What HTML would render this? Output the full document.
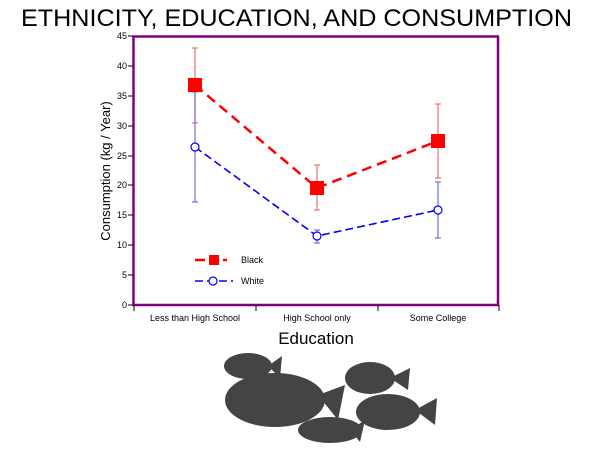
<!DOCTYPE html>
<html><head><style>
html,body{margin:0;padding:0;background:#fff;}
</style></head><body>
<svg width="600" height="450" xmlns="http://www.w3.org/2000/svg" font-family="Liberation Sans, sans-serif">
<text x="21" y="26" font-size="24" textLength="551" lengthAdjust="spacingAndGlyphs" fill="#000">ETHNICITY, EDUCATION, AND CONSUMPTION</text>
<rect x="133.5" y="36.5" width="364.5" height="268.5" fill="none" stroke="#800080" stroke-width="2.5"/>
<g stroke="#000" stroke-width="1">
<line x1="128" y1="36" x2="133" y2="36"/><line x1="128" y1="66" x2="133" y2="66"/><line x1="128" y1="96" x2="133" y2="96"/><line x1="128" y1="126" x2="133" y2="126"/><line x1="128" y1="156" x2="133" y2="156"/><line x1="128" y1="185" x2="133" y2="185"/><line x1="128" y1="215" x2="133" y2="215"/><line x1="128" y1="245" x2="133" y2="245"/><line x1="128" y1="275" x2="133" y2="275"/><line x1="128" y1="305" x2="133" y2="305"/>
<line x1="134" y1="305" x2="134" y2="311"/><line x1="256" y1="305" x2="256" y2="311"/><line x1="378" y1="305" x2="378" y2="311"/><line x1="499" y1="305" x2="499" y2="311"/>
</g>
<g font-size="9" fill="#000" text-anchor="end">
<text x="127" y="39">45</text><text x="127" y="69">40</text><text x="127" y="99">35</text><text x="127" y="129">30</text><text x="127" y="159">25</text><text x="127" y="188">20</text><text x="127" y="218">15</text><text x="127" y="248">10</text><text x="127" y="278">5</text><text x="127" y="308">0</text>
</g>
<g font-size="9" fill="#000" text-anchor="middle">
<text x="195" y="321">Less than High School</text><text x="317" y="321">High School only</text><text x="438" y="321">Some College</text>
</g>
<text x="316" y="344" font-size="17" text-anchor="middle">Education</text>
<text transform="translate(110,171) rotate(-90)" font-size="13" text-anchor="middle">Consumption  (kg / Year)</text>
<g stroke="#f07070" stroke-width="1.2">
<line x1="195" y1="48" x2="195" y2="123"/><line x1="192" y1="48" x2="198" y2="48"/><line x1="192" y1="123" x2="198" y2="123"/>
<line x1="317" y1="165" x2="317" y2="210"/><line x1="314" y1="165" x2="320" y2="165"/><line x1="314" y1="210" x2="320" y2="210"/>
<line x1="438" y1="104" x2="438" y2="178"/><line x1="435" y1="104" x2="441" y2="104"/><line x1="435" y1="178" x2="441" y2="178"/>
</g>
<g stroke="#7070e0" stroke-width="1.2">
<line x1="195" y1="92" x2="195" y2="202"/><line x1="192" y1="92" x2="198" y2="92"/><line x1="192" y1="202" x2="198" y2="202"/>
<line x1="317" y1="230" x2="317" y2="243"/><line x1="314" y1="230" x2="320" y2="230"/><line x1="314" y1="243" x2="320" y2="243"/>
<line x1="438" y1="182" x2="438" y2="238"/><line x1="435" y1="182" x2="441" y2="182"/><line x1="435" y1="238" x2="441" y2="238"/>
</g>
<polyline points="195,85 317,188 438,141" fill="none" stroke="#ff0000" stroke-width="2.5" stroke-dasharray="10,6"/>
<polyline points="195,147 317,236 438,210" fill="none" stroke="#0000ff" stroke-width="1.6" stroke-dasharray="8,4"/>
<g fill="#ff0000"><rect x="188" y="78" width="14" height="14"/><rect x="310" y="181" width="14" height="14"/><rect x="431" y="134" width="14" height="14"/></g>
<g fill="#fff" stroke="#0000ff" stroke-width="1.2"><circle cx="195" cy="147" r="4"/><circle cx="317" cy="236" r="4"/><circle cx="438" cy="210" r="4"/></g>
<line x1="195" y1="260" x2="227" y2="260" stroke="#ff0000" stroke-width="2.5" stroke-dasharray="10,4"/>
<rect x="209" y="255" width="10" height="10" fill="#ff0000"/>
<line x1="195" y1="281" x2="233" y2="281" stroke="#0000ff" stroke-width="1.6" stroke-dasharray="8,4"/>
<circle cx="213" cy="281" r="4" fill="#fff" stroke="#0000ff" stroke-width="1.2"/>
<text x="241" y="263" font-size="9">Black</text>
<text x="241" y="284" font-size="9">White</text>
<g fill="#444">
<ellipse cx="248" cy="366" rx="24" ry="13"/><polygon points="268,366 282,356 280,378"/>
<ellipse cx="275" cy="400" rx="50" ry="27"/><polygon points="318,395 345,385 338,420"/>
<ellipse cx="370" cy="378" rx="25" ry="16"/><polygon points="390,378 410,368 408,390"/>
<ellipse cx="388" cy="412" rx="32" ry="18"/><polygon points="415,410 437,398 435,425"/>
<ellipse cx="330" cy="430" rx="32" ry="13"/><polygon points="350,430 365,420 360,442"/>
</g>
</svg>
</body></html>
